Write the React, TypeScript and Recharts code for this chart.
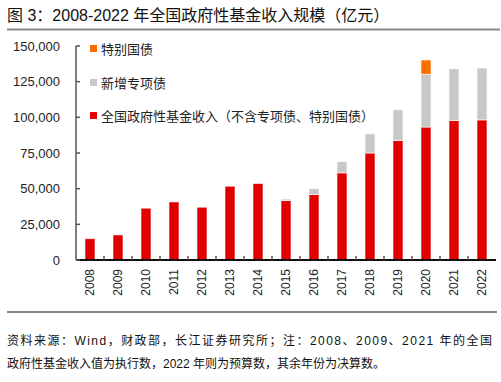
import React from "react";
import { BarChart, Bar, XAxis, YAxis, Legend } from "recharts";

const years = ["2008", "2009", "2010", "2011", "2012", "2013", "2014", "2015", "2016", "2017", "2018", "2019", "2020", "2021", "2022"];
// 全国政府性基金收入（不含专项债、特别国债）
const fundIncome = [14950, 17600, 36300, 40700, 37000, 51700, 53600, 41700, 45900, 61100, 75000, 83800, 93200, 97800, 98200];
// 新增专项债
const specialBonds = [0, 0, 0, 0, 0, 0, 0, 1000, 4100, 7900, 13400, 21500, 37000, 36200, 36400];
// 特别国债
const treasuryBonds = [0, 0, 0, 0, 0, 0, 0, 0, 0, 0, 0, 0, 10000, 0, 0];
const yTicks = [0, 25000, 50000, 75000, 100000, 125000, 150000];

const data = years.map((year, i) => ({
  year,
  fund: fundIncome[i],
  special: specialBonds[i],
  treasury: treasuryBonds[i],
}));

const FONT = "'Liberation Sans', Arial, 'Noto Sans CJK SC', sans-serif";
const RED = "#e00000";
const GREY = "#c8c8c8";
const ORANGE = "#ff6d00";

const legendItems = [
  { label: "特别国债", color: ORANGE },
  { label: "新增专项债", color: GREY },
  { label: "全国政府性基金收入（不含专项债、特别国债）", color: RED },
];

const YTick = (props: any) => {
  const { x, y, payload } = props;
  return (
    <g>
      <line x1={x + 16} x2={x + 20} y1={y} y2={y} stroke="#555" strokeWidth={1.5} />
      <text x={x} y={y} dy="0.35em" textAnchor="end" fontSize={13} fill="#222" fontFamily={FONT}>
        {payload.value.toLocaleString("en-US")}
      </text>
    </g>
  );
};

const XTick = (props: any) => {
  const { x, payload, index } = props;
  return (
    <g>
      {index > 0 && <line x1={x - 14} x2={x - 14} y1={260} y2={256} stroke="#555" strokeWidth={1.5} />}
      <text
        transform={`translate(${x},269) rotate(-90)`}
        dy="0.36em"
        textAnchor="end"
        fontSize={12}
        fill="#222"
        fontFamily={FONT}
      >
        {payload.value}
      </text>
    </g>
  );
};

const LegendBox = () => (
  <div style={{ fontFamily: FONT, fontSize: 13, color: "#222" }}>
    {legendItems.map((item) => (
      <div key={item.label} style={{ display: "flex", alignItems: "center", height: 33.5, whiteSpace: "nowrap" }}>
        <span style={{ width: 7, height: 7, background: item.color, marginRight: 4, display: "inline-block" }} />
        {item.label}
      </div>
    ))}
  </div>
);

export default function App() {
  return (
    <div style={{ position: "absolute", left: 0, top: 0, width: 501, height: 382, background: "#fff" }}>
      <BarChart width={501} height={382} data={data} margin={{ top: 46, right: 5, bottom: 77, left: 0 }}>
        <XAxis
          dataKey="year"
          interval={0}
          height={45}
          tick={<XTick />}
          tickLine={false}
          axisLine={{ stroke: "#111", strokeWidth: 2 }}
        />
        <YAxis
          width={76}
          domain={[0, 150000]}
          ticks={yTicks}
          tickSize={0}
          tickMargin={16}
          tick={<YTick />}
          tickLine={false}
          axisLine={{ stroke: "#555", strokeWidth: 1.5 }}
        />
        <Legend
          layout="vertical"
          align="center"
          verticalAlign="middle"
          content={<LegendBox />}
          wrapperStyle={{ left: 90, top: 32, width: 300, height: 101 }}
        />
        <Bar dataKey="fund" stackId="a" fill={RED} stroke="#fff" strokeWidth={0.6} barSize={10} isAnimationActive={false} />
        <Bar dataKey="special" stackId="a" fill={GREY} stroke="#fff" strokeWidth={0.6} barSize={10} isAnimationActive={false} />
        <Bar dataKey="treasury" stackId="a" fill={ORANGE} stroke="#fff" strokeWidth={0.6} barSize={10} isAnimationActive={false} />
      </BarChart>
      <svg width={501} height={382} style={{ position: "absolute", left: 0, top: 0, pointerEvents: "none" }}>
        <text x={7} y={20.5} fontSize={16} fill="#111" fontFamily={FONT}>
          图 3：2008-2022 年全国政府性基金收入规模（亿元）
        </text>
        <line x1={7} x2={500} y1={29.5} y2={29.5} stroke="#888" strokeWidth={2} />
        <line x1={7} x2={497} y1={312} y2={312} stroke="#888" strokeWidth={2} />
        <text x={7} y={344.5} fontSize={12} fill="#111" fontFamily={FONT} textLength={485} lengthAdjust="spacing">
          资料来源：Wind，财政部，长江证券研究所；注：2008、2009、2021 年的全国
        </text>
        <text x={7} y={367.5} fontSize={12} fill="#111" fontFamily={FONT}>
          政府性基金收入值为执行数，2022 年则为预算数，其余年份为决算数。
        </text>
      </svg>
    </div>
  );
}
